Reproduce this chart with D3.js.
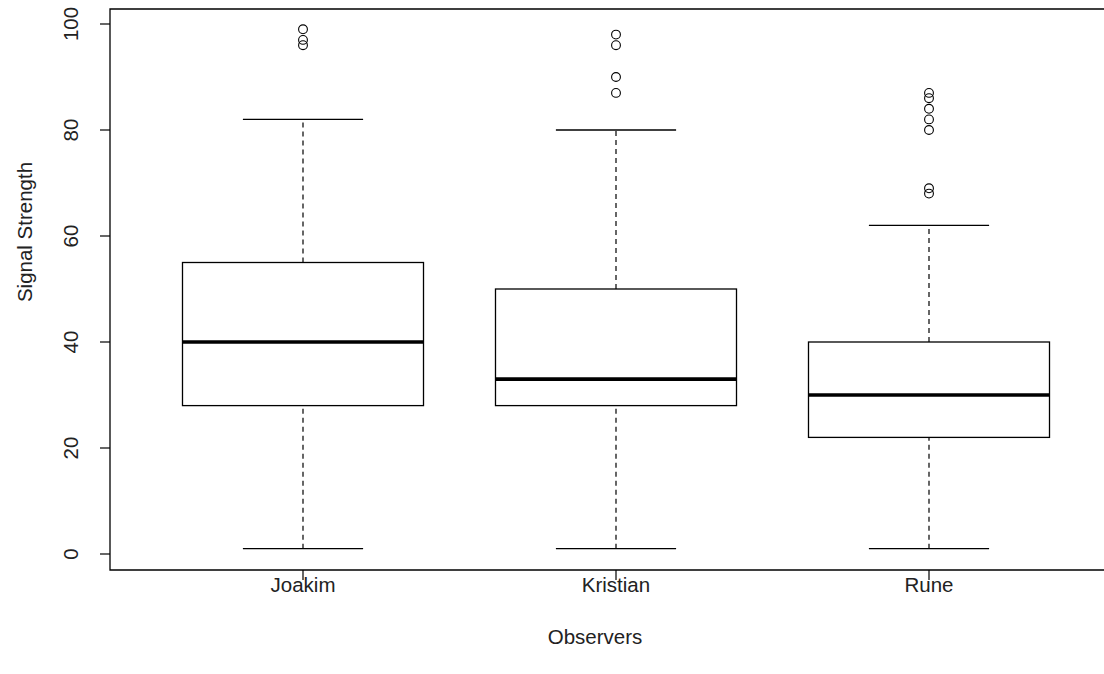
<!DOCTYPE html>
<html><head><meta charset="utf-8">
<script src="https://cdn.jsdelivr.net/npm/d3@7"></script>
<style>body{margin:0;background:#fff;}svg{display:block;font-family:"Liberation Sans",Arial,sans-serif;}</style>
</head><body>
<svg id="c" width="1104" height="674"></svg>
<script>
const categories = ["Joakim", "Kristian", "Rune"];
const lowerWhisker = [1, 1, 1];
const q1 = [28, 28, 22];
const median = [40, 33, 30];
const q3 = [55, 50, 40];
const upperWhisker = [82, 80, 62];
const outliers = [[96, 97, 99], [87, 90, 96, 98], [68, 69, 80, 82, 84, 86, 87]];
const yTicks = [0, 20, 40, 60, 80, 100];
const xTitle = "Observers";
const yTitle = "Signal Strength";

(function () {
const svg = d3.select("#c");
const pLeft = 110, pTop = 9, pBottom = 570, pRight = 1130;
const x = d3.scaleLinear().domain([1, 3]).range([303, 929]);
const y = d3.scaleLinear().domain([0, 100]).range([554, 24]);
const halfBox = 0.385, halfCap = 0.192;
const fs = 20.5;

svg.append("path").attr("fill", "none").attr("stroke", "#000").attr("stroke-width", 1.3)
  .attr("d", `M${pRight},${pTop}H${pLeft}V${pBottom}H${pRight}`);

categories.forEach((c, i) => {
  const cx = i + 1;
  const g = svg.append("g");
  [[lowerWhisker[i], q1[i]], [q3[i], upperWhisker[i]]].forEach(([a, b]) => {
    g.append("line").attr("x1", x(cx)).attr("x2", x(cx)).attr("y1", y(a)).attr("y2", y(b))
      .attr("stroke", "#000").attr("stroke-width", 1.2).attr("stroke-dasharray", "5,4");
  });
  [lowerWhisker[i], upperWhisker[i]].forEach(v => {
    g.append("line").attr("x1", x(cx - halfCap)).attr("x2", x(cx + halfCap)).attr("y1", y(v)).attr("y2", y(v))
      .attr("stroke", "#000").attr("stroke-width", 1.3);
  });
  g.append("rect").attr("x", x(cx - halfBox)).attr("width", x(cx + halfBox) - x(cx - halfBox))
    .attr("y", y(q3[i])).attr("height", y(q1[i]) - y(q3[i]))
    .attr("fill", "none").attr("stroke", "#000").attr("stroke-width", 1.3);
  g.append("line").attr("x1", x(cx - halfBox)).attr("x2", x(cx + halfBox)).attr("y1", y(median[i])).attr("y2", y(median[i]))
    .attr("stroke", "#000").attr("stroke-width", 3.6);
  outliers[i].forEach(v => {
    g.append("circle").attr("cx", x(cx)).attr("cy", y(v)).attr("r", 4.4)
      .attr("fill", "none").attr("stroke", "#000").attr("stroke-width", 1.1);
  });
});

const xa = svg.append("g");
categories.forEach((c, i) => {
  xa.append("line").attr("x1", x(i + 1)).attr("x2", x(i + 1)).attr("y1", pBottom).attr("y2", pBottom + 10)
    .attr("stroke", "#000").attr("stroke-width", 1.2);
  xa.append("text").attr("x", x(i + 1)).attr("y", 591.5).attr("text-anchor", "middle")
    .attr("font-size", fs).attr("fill", "#222").text(c);
});
svg.append("text").attr("x", 595).attr("y", 643.5).attr("text-anchor", "middle")
  .attr("font-size", fs).attr("fill", "#222").text(xTitle);

const ya = svg.append("g");
yTicks.forEach(t => {
  ya.append("line").attr("x1", pLeft - 10).attr("x2", pLeft).attr("y1", y(t)).attr("y2", y(t))
    .attr("stroke", "#000").attr("stroke-width", 1.2);
  ya.append("text").attr("transform", `translate(77.5,${y(t)}) rotate(-90)`).attr("text-anchor", "middle")
    .attr("font-size", fs).attr("fill", "#222").text(t);
});
svg.append("text").attr("transform", `translate(32,232) rotate(-90)`).attr("text-anchor", "middle")
  .attr("font-size", fs).attr("fill", "#222").text(yTitle);
})();
</script>
</body></html>
